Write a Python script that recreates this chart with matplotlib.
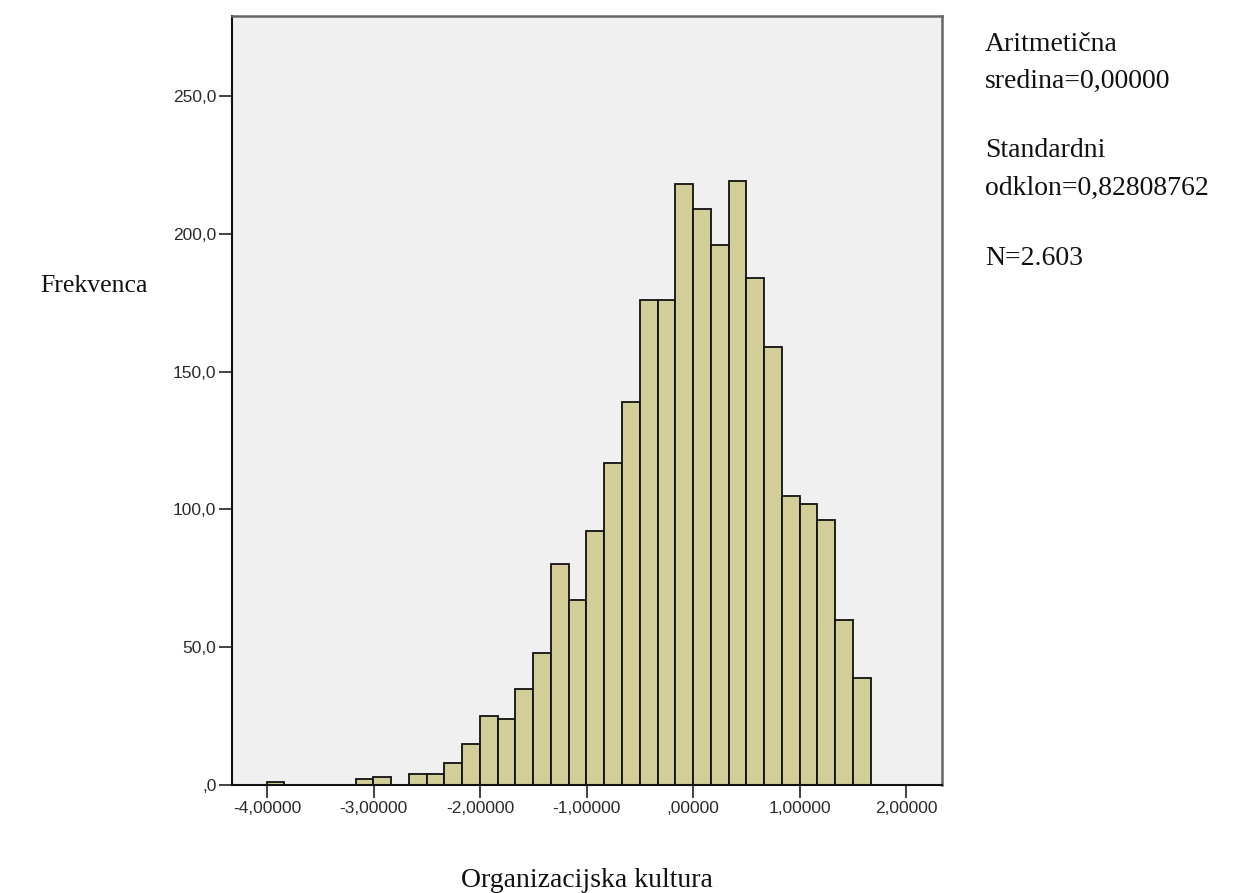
import numpy as np
import matplotlib
matplotlib.use("Agg")
import matplotlib.pyplot as plt

# histogram counts (34 bins, left to right)
counts = [1, 0, 0, 0, 0, 2, 3, 0, 4, 4, 8, 15, 25, 24, 35, 48, 80, 67,
          92, 117, 139, 176, 176, 218, 209, 196, 219, 184, 159, 105, 102,
          96, 60, 39]
bin_start = -4.006
bin_width = 0.1669

x_ticks = [-4, -3, -2, -1, 0, 1, 2]
x_labels = ["-4,00000", "-3,00000", "-2,00000", "-1,00000", ",00000",
            "1,00000", "2,00000"]
y_ticks = [0, 50, 100, 150, 200, 250]
y_labels = [",0", "50,0", "100,0", "150,0", "200,0", "250,0"]

stats_lines = [("Aritmetična", 50.7), ("sredina=0,00000", 88),
               ("Standardni", 156.7), ("odklon=0,82808762", 195),
               ("N=2.603", 265)]

W, H = 1241, 893
fig = plt.figure(figsize=(W / 100, H / 100), dpi=100)
ax = fig.add_axes([232.3 / W, 1 - 785 / H, (941.7 - 232.3) / W, (785 - 16) / H])
ax.set_facecolor("#F0F0F0")

lefts = bin_start + bin_width * np.arange(len(counts))
for l, c in zip(lefts, counts):
    if c > 0:
        ax.bar(l, c, width=bin_width, align="edge", color="#D3CE97",
               edgecolor="#111111", linewidth=1.3)

ax.set_xlim(-4.329, 2.335)
ax.set_ylim(0, 279)

ax.set_xticks(x_ticks)
ax.set_xticklabels(x_labels)
ax.set_yticks(y_ticks)
ax.set_yticklabels(y_labels)
ax.tick_params(length=9.5, width=1.2, color="#222222", labelcolor="#2b2b2b",
               labelsize=12.5, pad=2)
for lab in ax.get_xticklabels() + ax.get_yticklabels():
    lab.set_family("Liberation Sans")

for s in ["left", "bottom"]:
    ax.spines[s].set_color("#111111")
    ax.spines[s].set_linewidth(1.5)
for s in ["top", "right"]:
    ax.spines[s].set_color("#666666")
    ax.spines[s].set_linewidth(1.8)

serif = "Liberation Serif"
fig.text(40 / W, 1 - 292 / H, "Frekvenca", family=serif, fontsize=18.5,
         ha="left", va="baseline", color="#111111")
fig.text(587 / W, 1 - 886.7 / H, "Organizacijska kultura", family=serif,
         fontsize=20, ha="center", va="baseline", color="#111111")
for txt, yb in stats_lines:
    fig.text(985 / W, 1 - yb / H, txt, family=serif, fontsize=20,
             ha="left", va="baseline", color="#111111")

fig.savefig("out.png", dpi=100, facecolor="white")
